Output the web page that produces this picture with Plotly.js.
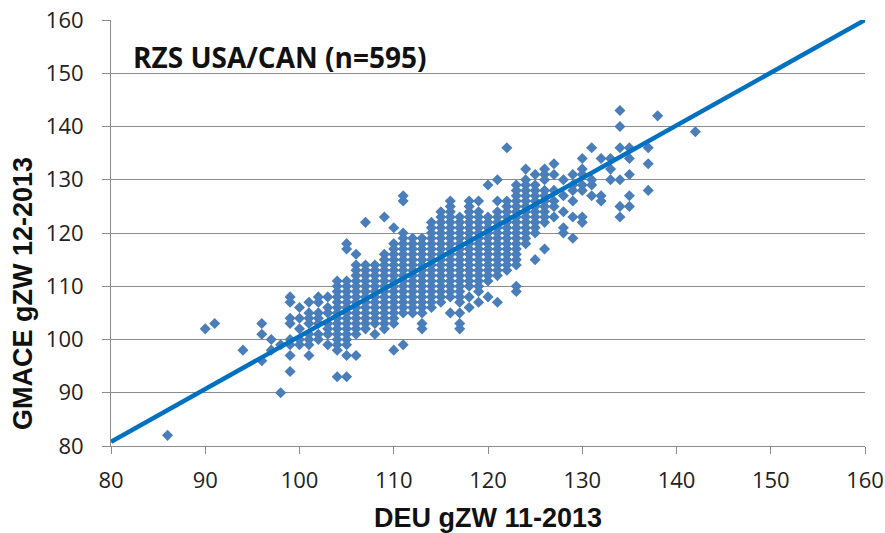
<!DOCTYPE html>
<html>
<head>
<meta charset="utf-8">
<script src="https://cdn.plot.ly/plotly-3.0.1.min.js"></script>
<style>
  html, body { margin: 0; padding: 0; background: #ffffff; }
  #chart { width: 885px; height: 533px; }
</style>
</head>
<body>
<div id="chart"></div>
<script>
// DEU gZW 11-2013 values (x), one column per value
const deuValues = [86, 90, 91, 94, 96, 97, 98, 99, 100, 101, 102, 103, 104, 105, 106, 107, 108, 109, 110,
  111, 112, 113, 114, 115, 116, 117, 118, 119, 120, 121, 122, 123, 124, 125, 126, 127, 128, 129, 130,
  131, 132, 133, 134, 135, 137, 138, 142];

// GMACE gZW 12-2013 values (y) observed for each DEU column
const gmaceValues = [
  [82],
  [102],
  [103],
  [98],
  [103, 101, 96],
  [100, 98],
  [99, 90],
  [108, 107, 104, 103, 100, 99, 97, 94],
  [106, 104, 102, 100, 99],
  [107, 105, 104, 103, 101, 100, 99, 97],
  [108, 107, 105, 104, 103, 101, 100],
  [108, 106, 105, 103, 102, 101, 99],
  [111, 110, 109, 108, 107, 106, 105, 104, 103, 102, 101, 100, 99, 98, 93],
  [118, 117, 111, 110, 109, 108, 107, 106, 105, 104, 103, 102, 101, 100, 99, 97, 93],
  [116, 114, 113, 112, 111, 110, 109, 108, 107, 106, 105, 104, 103, 102, 101, 97],
  [122, 114, 113, 112, 111, 110, 109, 108, 107, 106, 105, 104, 103, 102],
  [114, 113, 112, 111, 110, 109, 108, 107, 106, 105, 104, 103, 101],
  [123, 116, 115, 114, 113, 112, 111, 110, 109, 108, 107, 106, 105, 104, 103, 102],
  [121, 118, 117, 116, 115, 114, 113, 112, 111, 110, 109, 108, 107, 106, 105, 104, 103, 98],
  [127, 126, 120, 119, 118, 117, 116, 115, 114, 113, 112, 111, 110, 109, 108, 107, 106, 105, 99],
  [119, 118, 117, 116, 115, 114, 113, 112, 111, 110, 109, 108, 107, 106, 105],
  [119, 118, 117, 116, 115, 114, 113, 112, 111, 110, 109, 108, 107, 106, 105, 103, 102],
  [122, 121, 120, 119, 118, 117, 116, 115, 114, 113, 112, 111, 110, 109, 108, 107, 106],
  [124, 123, 122, 121, 120, 119, 118, 117, 116, 115, 114, 113, 112, 111, 110, 109, 108, 107],
  [126, 125, 124, 123, 122, 121, 120, 119, 118, 117, 116, 115, 114, 113, 112, 111, 110, 109, 108, 105],
  [123, 122, 121, 120, 119, 118, 117, 116, 115, 114, 113, 112, 111, 110, 109, 108, 107, 105, 103, 102],
  [126, 125, 124, 123, 122, 121, 120, 119, 118, 117, 116, 115, 114, 113, 112, 111, 110, 108, 106],
  [126, 124, 123, 122, 121, 120, 119, 118, 117, 116, 115, 114, 113, 112, 111, 110, 109, 107],
  [129, 123, 122, 121, 120, 119, 118, 117, 116, 115, 114, 113, 112, 111, 108],
  [130, 126, 124, 123, 122, 121, 120, 119, 118, 117, 116, 115, 114, 113, 112, 107],
  [136, 126, 125, 124, 123, 122, 121, 120, 119, 118, 117, 116, 115, 114, 113],
  [129, 128, 127, 126, 125, 124, 123, 122, 121, 120, 119, 118, 117, 116, 115, 114, 110, 109],
  [132, 130, 129, 128, 127, 126, 125, 124, 123, 122, 121, 120, 119, 118],
  [131, 129, 128, 127, 126, 125, 124, 123, 122, 121, 120, 115],
  [132, 131, 130, 128, 127, 126, 125, 124, 123, 122, 117],
  [133, 131, 128, 126, 125, 123],
  [130, 127, 124, 121, 120],
  [131, 129, 128, 126, 123, 119],
  [134, 132, 131, 129, 128, 123, 122],
  [136, 130, 129, 127],
  [134, 127, 126],
  [134, 132, 130],
  [143, 140, 136, 130, 125, 123],
  [136, 134, 131, 127, 125],
  [136, 133, 128],
  [142],
  [139]
];

// reference line endpoints
const lineX = [80, 160];
const lineY = [80.8, 160];

const tickVals = [80, 90, 100, 110, 120, 130, 140, 150, 160];
const tickText = ["80", "90", "100", "110", "120", "130", "140", "150", "160"];

const titleText = "RZS USA/CAN (n=595)";
const xTitleText = "DEU gZW 11-2013";
const yTitleText = "GMACE gZW 12-2013";

const px = [], py = [];
deuValues.forEach((xv, i) => {
  gmaceValues[i].forEach(yv => { px.push(xv); py.push(yv); });
});

const gridCol = "#8c8c8c";
const tickFont = { family: "Open Sans, Lato, sans-serif", size: 22, color: "#222222" };
const titleFont = { family: "Liberation Sans, Arial, sans-serif", size: 27, color: "#111111" };

const data = [
  {
    type: "scatter", mode: "markers", x: px, y: py,
    marker: { symbol: "diamond", size: 8.5, color: "#4a7ebb" },
    hoverinfo: "x+y", showlegend: false
  },
  {
    type: "scatter", mode: "lines", x: lineX, y: lineY,
    line: { color: "#0070c0", width: 4.5 },
    hoverinfo: "skip", showlegend: false
  }
];

const layout = {
  width: 885, height: 533,
  margin: { l: 111, r: 20, t: 20, b: 87 },
  paper_bgcolor: "#ffffff", plot_bgcolor: "#ffffff",
  showlegend: false,
  xaxis: {
    range: [80, 160], tickmode: "array", tickvals: tickVals, ticktext: tickText,
    showgrid: false, zeroline: false, showline: true, linecolor: gridCol, linewidth: 1,
    ticks: "outside", ticklen: 7, tickcolor: gridCol, tickwidth: 1,
    tickfont: tickFont, ticklabelstandoff: 8
  },
  yaxis: {
    range: [80, 160], tickmode: "array", tickvals: tickVals, ticktext: tickText,
    showgrid: true, gridcolor: gridCol, gridwidth: 1,
    zeroline: false, showline: true, linecolor: gridCol, linewidth: 1,
    ticks: "outside", ticklen: 8, tickcolor: gridCol, tickwidth: 1,
    tickfont: tickFont, ticklabelstandoff: 14
  },
  annotations: [
    {
      text: "<b>" + titleText + "</b>", xref: "paper", yref: "paper",
      x: 0.026, y: 0.913, xanchor: "left", yanchor: "middle", showarrow: false,
      font: { family: "Open Sans, Lato, sans-serif", size: 28, color: "#111111" }
    },
    {
      text: "<b>" + xTitleText + "</b>", xref: "paper", yref: "paper",
      x: 0.5, y: -0.168, xanchor: "center", yanchor: "middle", showarrow: false,
      font: titleFont
    },
    {
      text: "<b>" + yTitleText + "</b>", xref: "paper", yref: "paper",
      x: -0.1167, y: 0.357, xanchor: "center", yanchor: "middle", showarrow: false,
      textangle: -90, font: titleFont
    }
  ]
};

Plotly.newPlot("chart", data, layout, { staticPlot: true, displayModeBar: false });
</script>
</body>
</html>
